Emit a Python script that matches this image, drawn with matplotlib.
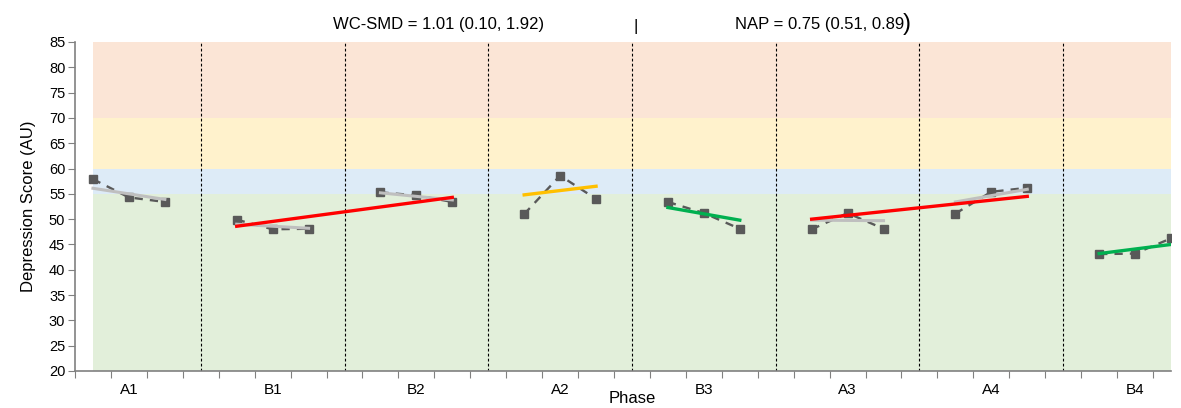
import matplotlib
matplotlib.use("Agg")
import matplotlib.pyplot as plt

plt.rcParams["font.family"] = ["Liberation Sans", "DejaVu Sans"]

phases = ["A1", "B1", "B2", "A2", "B3", "A3", "A4", "B4"]

# scores per session, 3 sessions per phase
a1 = [57.9, 54.3, 53.4]
b1 = [49.9, 48.0, 48.1]
b2 = [55.3, 54.7, 53.4]
a2 = [51.0, 58.6, 54.0]
b3 = [53.4, 51.2, 48.1]
a3 = [48.0, 51.2, 48.1]
a4 = [51.1, 55.4, 56.2]
b4 = [43.1, 43.2, 46.2]
scores = [a1, b1, b2, a2, b3, a3, a4, b4]

# trend lines: (first phase, last phase, start value, end value)
gray_trends = [(0, 0, 56.1, 53.9), (1, 1, 49.0, 48.2), (2, 2, 55.2, 53.8),
               (5, 5, 49.8, 49.7), (6, 6, 53.4, 55.9)]
color_trends = [(1, 2, 48.6, 54.3, "#ff0000"), (3, 3, 54.8, 56.5, "#ffc000"),
                (4, 4, 52.3, 49.8, "#00b050"), (5, 6, 50.0, 54.5, "#ff0000"),
                (7, 7, 43.2, 45.0, "#00b050")]

bands = [(20, 55, "#e2efda"), (55, 60, "#ddebf7"), (60, 70, "#fff2cc"), (70, 85, "#fbe5d6")]

fig = plt.figure(figsize=(11.81, 4.08), dpi=100)
ax = fig.add_axes([75 / 1181, 1 - 371 / 408, (1171 - 75) / 1181, (371 - 42) / 408])


def sx(phase, j):
    # session j of a phase sits in the middle of its category slot
    return 8 * phase + 1 + 2 * j


for lo, hi, c in bands:
    ax.fill_between([1, 61], lo, hi, color=c, lw=0, zorder=0)

for k in range(1, len(phases)):
    ax.axvline(8 * k - 1, color="black", lw=0.8, ls=(0, (2.5, 2)), zorder=1)

for k, vals in enumerate(scores):
    xs = [sx(k, j) for j in range(len(vals))]
    ax.plot(xs, vals, color="#595959", lw=1.7, ls=(0, (3.5, 3)),
            marker="s", ms=5.5, mfc="#595959", mec="#595959", zorder=2)

for p0, p1, v0, v1 in gray_trends:
    ax.plot([sx(p0, 0), sx(p1, 2)], [v0, v1], color="#bfbfbf", lw=2.2, zorder=3)

for p0, p1, v0, v1, c in color_trends:
    ax.plot([sx(p0, 0), sx(p1, 2)], [v0, v1], color=c, lw=2.4, zorder=4)

ax.set_xlim(0, 61)
ax.set_ylim(20, 85)
ax.set_yticks(range(20, 86, 5))
ax.set_xticks(range(0, 61, 2))
ax.set_xticklabels([])
ax.set_xticks([8 * k + 3 for k in range(len(phases))], phases, minor=True)
ax.tick_params(axis="x", which="minor", length=0, pad=9, labelsize=11)
ax.tick_params(axis="x", which="major", length=5, color="#808080")
ax.tick_params(axis="y", length=5, color="#808080", labelsize=10.5, pad=2)
for s in ["top", "right"]:
    ax.spines[s].set_visible(False)
for s in ["left", "bottom"]:
    ax.spines[s].set_color("#808080")
    ax.spines[s].set_linewidth(1.2)

ax.set_ylabel("Depression Score (AU)", fontsize=12, labelpad=9)

fig.text(632 / 1181, 2 / 408, "Phase", ha="center", va="bottom", fontsize=12)
fig.text(439 / 1181, 1 - 25 / 408, "WC-SMD = 1.01 (0.10, 1.92)", ha="center", va="center", fontsize=12)
fig.text(636 / 1181, 1 - 27 / 408, "|", ha="center", va="center", fontsize=12)
fig.text(735 / 1181, 1 - 25 / 408, "NAP = 0.75 (0.51, 0.89", ha="left", va="center", fontsize=12)
fig.text(903 / 1181, 1 - 24 / 408, ")", ha="left", va="center", fontsize=17)

fig.savefig("out.png", dpi=100)
